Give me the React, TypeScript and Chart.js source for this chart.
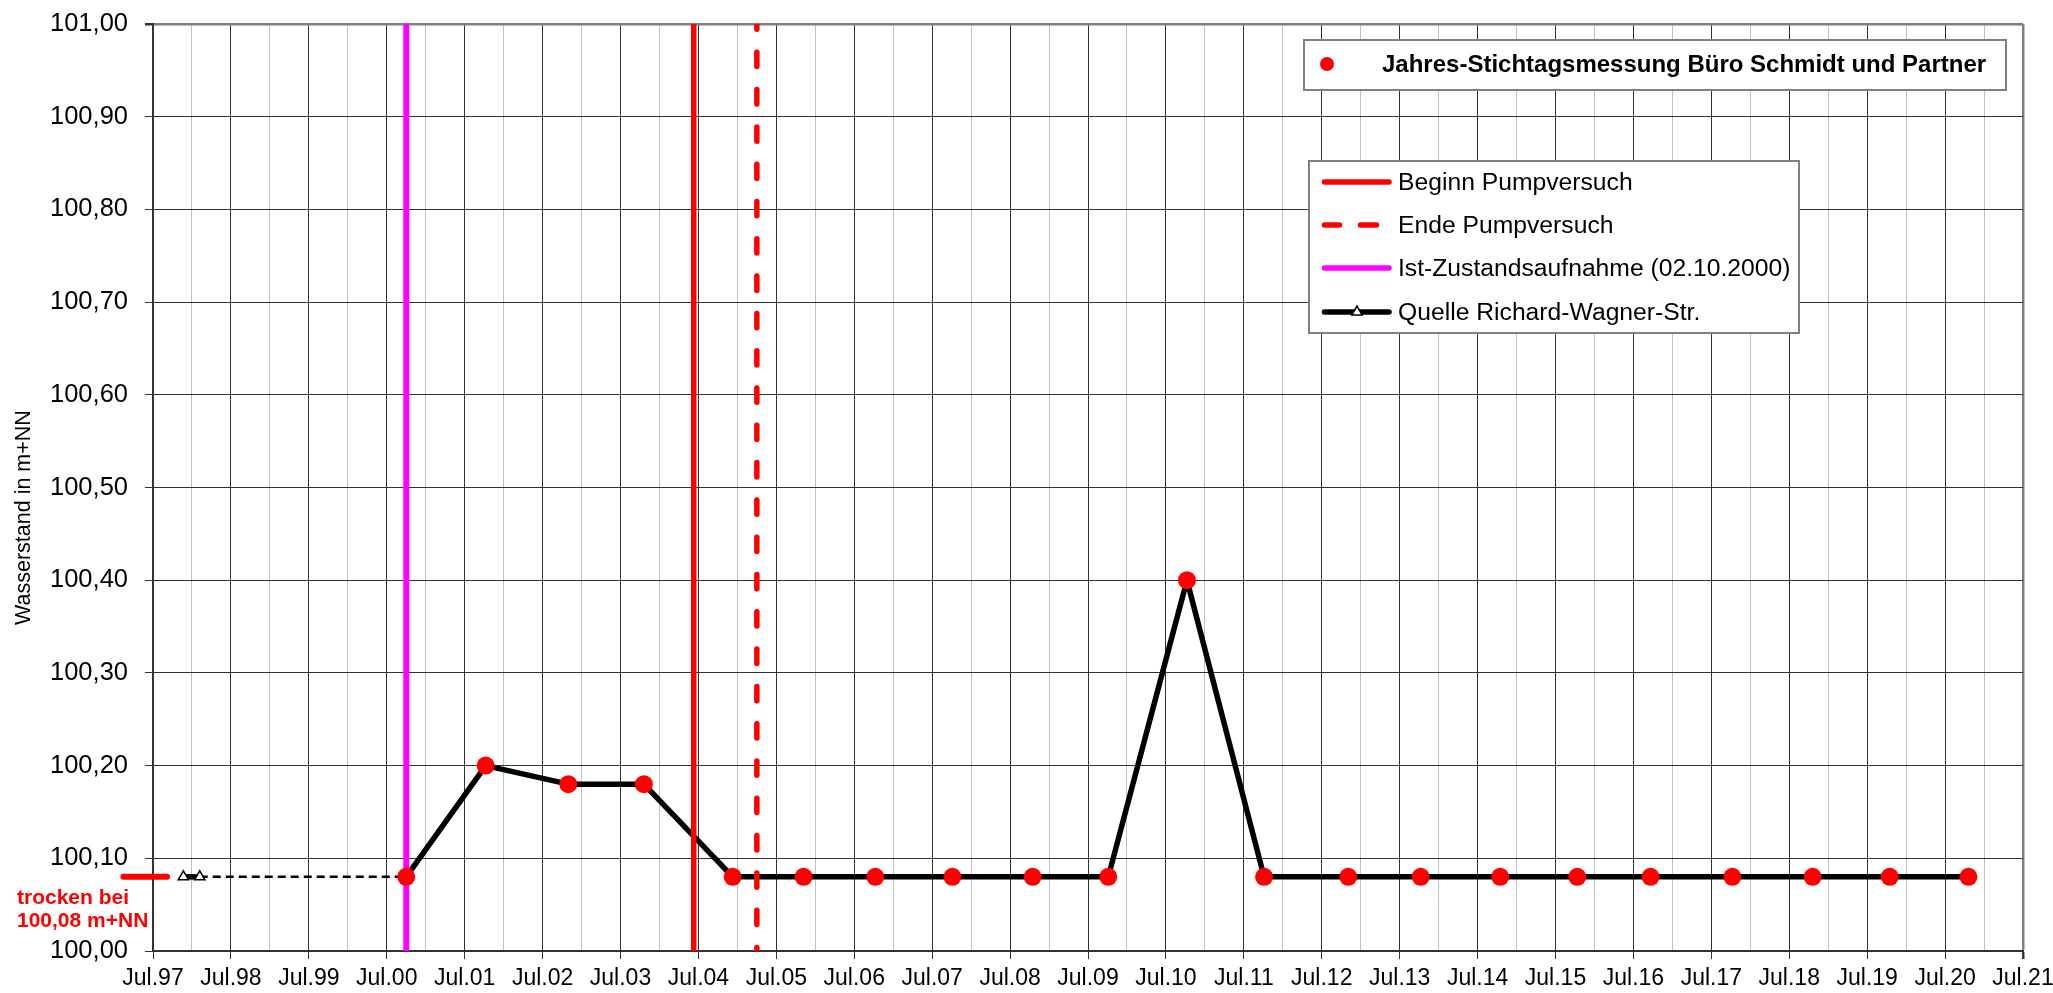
import React, { useEffect, useRef } from 'react';
import { Chart, registerables } from 'chart.js';

Chart.register(...registerables);

const FONT = "'Liberation Sans', Arial, Helvetica, sans-serif";

// ---- data (decimal years; Jul.97 = 1997.5) ----
const quelleDates = [
  1997.89, 1998.1, 2000.75, 2001.77, 2002.83, 2003.8, 2004.94, 2005.85, 2006.77, 2007.76, 2008.79, 2009.76,
  2010.77, 2011.76, 2012.84, 2013.77, 2014.79, 2015.78, 2016.72, 2017.77, 2018.8, 2019.79, 2020.8,
];
const quelleLevels = [
  100.08, 100.08, 100.08, 100.2, 100.18, 100.18, 100.08, 100.08, 100.08, 100.08, 100.08, 100.08, 100.4, 100.08,
  100.08, 100.08, 100.08, 100.08, 100.08, 100.08, 100.08, 100.08, 100.08,
];
const stichtagDates = [
  2000.75, 2001.77, 2002.83, 2003.8, 2004.94, 2005.85, 2006.77, 2007.76, 2008.79, 2009.76, 2010.77, 2011.76,
  2012.84, 2013.77, 2014.79, 2015.78, 2016.72, 2017.77, 2018.8, 2019.79, 2020.8,
];
const stichtagLevels = [
  100.08, 100.2, 100.18, 100.18, 100.08, 100.08, 100.08, 100.08, 100.08, 100.08, 100.4, 100.08, 100.08, 100.08,
  100.08, 100.08, 100.08, 100.08, 100.08, 100.08, 100.08,
];
const beginPumpDate = 2004.44;
const endPumpDate = 2005.25;
const istZustandDate = 2000.751;
const dryLevel = 100.08;
const dryMarkDates = [1997.12, 1997.68];
const xRange = [1997.5, 2021.5];
const yRange = [100.0, 101.0];
const xStep = 0.5;
const yStep = 0.1;

const labelStichtag = 'Jahres-Stichtagsmessung Büro Schmidt und Partner';
const labelBegin = 'Beginn Pumpversuch';
const labelEnde = 'Ende Pumpversuch';
const labelIst = 'Ist-Zustandsaufnahme (02.10.2000)';
const labelQuelle = 'Quelle Richard-Wagner-Str.';
const yTitle = 'Wasserstand in m+NN';
const dryText = ['trocken bei', '100,08 m+NN'];

const isJul = (v: number) => Math.abs(v - Math.floor(v) - 0.5) < 1e-6;
const xLabel = (v: number) => (isJul(v) ? 'Jul.' + String(Math.floor(v) % 100).padStart(2, '0') : '');

const vline = (x: number) => [
  { x, y: yRange[1] },
  { x, y: yRange[0] },
];

function drawTriangle(ctx: CanvasRenderingContext2D, x: number, y: number, r: number) {
  ctx.beginPath();
  let rad = 0;
  ctx.moveTo(x + Math.sin(rad) * r, y - Math.cos(rad) * r);
  rad += (2 * Math.PI) / 3;
  ctx.lineTo(x + Math.sin(rad) * r, y - Math.cos(rad) * r);
  rad += (2 * Math.PI) / 3;
  ctx.lineTo(x + Math.sin(rad) * r, y - Math.cos(rad) * r);
  ctx.closePath();
  ctx.fillStyle = '#ffffff';
  ctx.fill();
  ctx.lineWidth = 1.5;
  ctx.strokeStyle = '#000000';
  ctx.stroke();
}

const overlay = {
  id: 'overlay',
  afterDraw(chart: any) {
    const ctx: CanvasRenderingContext2D = chart.ctx;
    const yScale = chart.scales.y;
    ctx.save();

    // y axis title
    ctx.save();
    ctx.translate(24, 625);
    ctx.rotate(-Math.PI / 2);
    ctx.font = `21.5px ${FONT}`;
    ctx.fillStyle = '#000';
    ctx.textAlign = 'left';
    ctx.textBaseline = 'middle';
    ctx.fillText(yTitle, 0, 0);
    ctx.restore();

    // dry annotation text
    const dy = yScale.getPixelForValue(dryLevel);
    ctx.font = `bold 21px ${FONT}`;
    ctx.fillStyle = '#ff0000';
    ctx.textAlign = 'left';
    ctx.textBaseline = 'middle';
    ctx.fillText(dryText[0], 17, dy + 21);
    ctx.fillText(dryText[1], 17, dy + 44);

    // legend 1
    ctx.fillStyle = '#ffffff';
    ctx.fillRect(1304, 40, 702, 50);
    ctx.lineWidth = 2;
    ctx.strokeStyle = '#808080';
    ctx.strokeRect(1304, 40, 702, 50);
    ctx.beginPath();
    ctx.arc(1327, 64, 7, 0, Math.PI * 2);
    ctx.fillStyle = '#ff0000';
    ctx.fill();
    ctx.font = `bold 24px ${FONT}`;
    ctx.fillStyle = '#000';
    ctx.textBaseline = 'middle';
    ctx.fillText(labelStichtag, 1382, 65);

    // legend 2
    ctx.fillStyle = '#ffffff';
    ctx.fillRect(1309, 161, 490, 172);
    ctx.lineWidth = 2;
    ctx.strokeStyle = '#808080';
    ctx.strokeRect(1309, 161, 490, 172);
    const rows = [182, 225, 268, 312];
    ctx.lineCap = 'round';
    ctx.lineWidth = 5.5;
    // begin
    ctx.strokeStyle = '#ff0000';
    ctx.beginPath();
    ctx.moveTo(1324.5, rows[0]);
    ctx.lineTo(1389, rows[0]);
    ctx.stroke();
    // end (dashed)
    ctx.beginPath();
    ctx.moveTo(1324.5, rows[1]);
    ctx.lineTo(1339.5, rows[1]);
    ctx.moveTo(1360.5, rows[1]);
    ctx.lineTo(1376.5, rows[1]);
    ctx.stroke();
    // ist
    ctx.strokeStyle = '#ff00ff';
    ctx.beginPath();
    ctx.moveTo(1324.5, rows[2]);
    ctx.lineTo(1389, rows[2]);
    ctx.stroke();
    // quelle
    ctx.strokeStyle = '#000000';
    ctx.beginPath();
    ctx.moveTo(1324.5, rows[3]);
    ctx.lineTo(1389, rows[3]);
    ctx.stroke();
    ctx.lineCap = 'butt';
    drawTriangle(ctx, 1357, rows[3], 6);

    ctx.font = `24.7px ${FONT}`;
    ctx.fillStyle = '#000';
    ctx.textAlign = 'left';
    ctx.textBaseline = 'middle';
    ctx.fillText(labelBegin, 1398, rows[0] + 1);
    ctx.fillText(labelEnde, 1398, rows[1] + 1);
    ctx.fillText(labelIst, 1398, rows[2] + 1);
    ctx.fillText(labelQuelle, 1398, rows[3] + 1);

    ctx.restore();
  },
};

export default function App() {
  const ref = useRef<HTMLCanvasElement>(null);

  useEffect(() => {
    const canvas = ref.current;
    if (!canvas) return;
    const chart = new Chart(canvas, {
      type: 'line',
      data: {
        datasets: [
          {
            label: labelStichtag,
            data: stichtagDates.map((x, i) => ({ x, y: stichtagLevels[i] })),
            showLine: false,
            pointRadius: 9,
            pointHoverRadius: 9,
            pointBackgroundColor: '#ff0000',
            pointBorderColor: '#ff0000',
            pointBorderWidth: 0,
            order: 0,
          },
          {
            label: labelBegin,
            data: vline(beginPumpDate),
            borderColor: '#ff0000',
            borderWidth: 5.5,
            pointRadius: 0,
            order: 1,
          },
          {
            label: labelEnde,
            data: vline(endPumpDate),
            borderColor: '#ff0000',
            borderWidth: 5.5,
            borderDash: [14.3, 23],
            borderDashOffset: 9,
            borderCapStyle: 'round',
            pointRadius: 0,
            order: 1,
          },
          {
            label: labelIst,
            data: vline(istZustandDate),
            borderColor: '#ff00ff',
            borderWidth: 6,
            pointRadius: 0,
            order: 1,
          },
          {
            label: labelQuelle,
            data: quelleDates.map((x, i) => ({ x, y: quelleLevels[i] })),
            borderColor: '#000000',
            borderWidth: 5.5,
            borderJoinStyle: 'round',
            tension: 0,
            pointStyle: 'triangle',
            pointRadius: (c: any) => (c.dataIndex < 2 ? 6 : 0),
            pointBackgroundColor: '#ffffff',
            pointBorderColor: '#000000',
            pointBorderWidth: 1.5,
            segment: {
              borderDash: (c: any) => (c.p0DataIndex === 1 ? [8, 5] : undefined),
              borderWidth: (c: any) => (c.p0DataIndex === 1 ? 2.5 : undefined),
            },
            order: 2,
          },
          {
            label: 'trocken',
            data: dryMarkDates.map((x) => ({ x, y: dryLevel })),
            borderColor: '#ff0000',
            borderWidth: 6,
            borderCapStyle: 'round',
            pointRadius: 0,
            clip: false,
            order: 3,
          },
        ],
      },
      options: {
        responsive: false,
        animation: false,
        devicePixelRatio: 1,
        events: [],
        layout: { padding: { left: 0, top: 24, right: 30, bottom: 0 } },
        plugins: {
          legend: { display: false },
          tooltip: { enabled: false },
          title: { display: false },
        },
        scales: {
          x: {
            type: 'linear',
            min: xRange[0],
            max: xRange[1],
            afterFit: (s: any) => {
              s.height = 42;
              s.paddingLeft = 0;
              s.paddingRight = 0;
            },
            ticks: {
              stepSize: xStep,
              autoSkip: false,
              maxRotation: 0,
              minRotation: 0,
              padding: 6,
              color: '#000',
              font: { family: FONT, size: 23 },
              callback: (v: any) => xLabel(Number(v)),
            },
            grid: {
              color: (c: any) =>
                c.tick && Math.abs(c.tick.value - xRange[1]) < 1e-6
                  ? '#808080'
                  : c.tick && isJul(c.tick.value)
                  ? '#333333'
                  : '#c0c0c0',
              lineWidth: (c: any) => (c.tick && Math.abs(c.tick.value - xRange[1]) < 1e-6 ? 2.5 : 1),
              tickColor: (c: any) => (c.tick && isJul(c.tick.value) ? '#333333' : 'rgba(0,0,0,0)'),
              tickLength: 8,
            },
            border: { color: '#333333', width: 2 },
          },
          y: {
            type: 'linear',
            min: yRange[0],
            max: yRange[1],
            afterFit: (s: any) => {
              s.width = 153;
              s.paddingTop = 0;
              s.paddingBottom = 0;
            },
            ticks: {
              stepSize: yStep,
              padding: 17,
              color: '#000',
              font: { family: FONT, size: 25.5 },
              callback: (v: any) => Number(v).toFixed(2).replace('.', ','),
            },
            grid: {
              color: (c: any) => (c.tick && c.tick.value > yRange[1] - 1e-6 ? '#808080' : '#333333'),
              lineWidth: (c: any) => (c.tick && c.tick.value > yRange[1] - 1e-6 ? 2.5 : 1),
              tickColor: '#333333',
              tickLength: 8,
            },
            border: { color: '#333333', width: 2 },
          },
        },
      } as any,
      plugins: [overlay],
    });
    return () => chart.destroy();
  }, []);

  return (
    <div style={{ position: 'fixed', left: 0, top: 0, width: 2053, height: 993, background: '#ffffff' }}>
      <canvas ref={ref} width={2053} height={993} style={{ display: 'block', width: 2053, height: 993 }} />
    </div>
  );
}
